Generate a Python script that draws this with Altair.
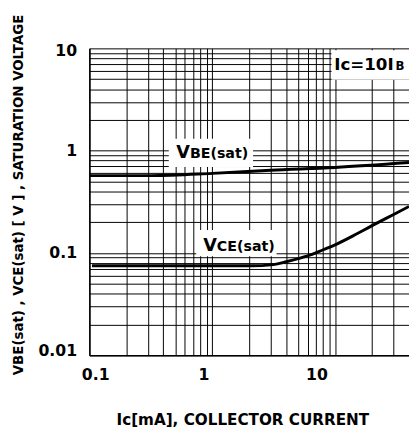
import altair as alt
import pandas as pd

# ---- data ----
VBE_IC = [0.1, 0.32, 1, 3, 10, 40]
VBE_V = [0.57, 0.57, 0.60, 0.645, 0.685, 0.765]

VCE_IC = [0.105, 2.15, 3, 4, 5, 6.5, 8, 10, 14, 20, 30, 40]
VCE_V = [0.075, 0.075, 0.0765, 0.082, 0.088, 0.097, 0.1075, 0.12, 0.147, 0.185, 0.238, 0.285]

X_GRID = [0.1, 0.2, 0.3, 0.4, 0.5, 0.6, 0.7, 0.8, 0.9,
          1, 2, 3, 4, 5, 6, 7, 8, 9, 10, 20, 30]
Y_GRID = [0.01, 0.02, 0.03, 0.04, 0.05, 0.06, 0.07, 0.08, 0.09,
          0.1, 0.2, 0.3, 0.4, 0.5, 0.6, 0.7, 0.8, 0.9,
          1, 2, 3, 4, 5, 6, 7, 8, 9, 10]
X_LABELS = ["0.1", "1", "10"]
Y_LABELS = ["0.01", "0.1", "1", "10"]

ANN_KEY = ["VBE", "VCE", "IC"]
ANN_MAIN = ["V", "V", "Ic=10I"]
ANN_SUB = ["BE(sat)", "CE(sat)", "B"]
ANN_X = [0.658, 1.09, 30]
ANN_Y = [0.839, 0.1045, 6.15]
BOX_X1 = [0.443, 0.741, 9.36]
BOX_X2 = [2.15, 3.34, 40]
BOX_Y1 = [1.31, 0.168, 9.57]
BOX_Y2 = [0.692, 0.0929, 4.93]

curves = pd.concat([
    pd.DataFrame({"ic": VBE_IC, "v": VBE_V, "s": "VBE"}),
    pd.DataFrame({"ic": VCE_IC, "v": VCE_V, "s": "VCE"}),
])
ann = pd.DataFrame({"key": ANN_KEY, "main": ANN_MAIN, "sub": ANN_SUB,
                    "x": ANN_X, "y": ANN_Y,
                    "x1": BOX_X1, "x2": BOX_X2, "y1": BOX_Y1, "y2": BOX_Y2})

FONT = "DejaVu Sans"

x_label_expr = " : ".join(
    [f"datum.value == {t} ? '{t}'" for t in X_LABELS]) + " : ''"
y_label_expr = " : ".join(
    [f"datum.value == {t} ? '{t}'" for t in Y_LABELS]) + " : ''"

xscale = alt.Scale(type="log", domain=[0.1, 40], nice=False)
yscale = alt.Scale(type="log", domain=[0.01, 10], nice=False)

xaxis = alt.Axis(
    values=X_GRID, grid=True, gridColor="#000", gridWidth=1, gridOpacity=1,
    domain=True, domainColor="#000", domainWidth=1.5, ticks=False,
    labelExpr=x_label_expr, labelFont=FONT, labelFontWeight="bold",
    labelFontSize=16, labelColor="#000", labelPadding=12,
    labelFlush=False, labelOverlap=False, labelBound=False,
    labelOffset={"condition": [{"test": "datum.value == 1", "value": -9},
                               {"test": "datum.value == 10", "value": -19}],
                 "value": 6},
    title="Ic[mA], COLLECTOR CURRENT", titleFont=FONT, titleFontWeight="bold",
    titleFontSize=15.5, titleColor="#000", titleX=156, titleY=71,
    titleBaseline="alphabetic", titleAlign="center",
)
yaxis = alt.Axis(
    values=Y_GRID, grid=True, gridColor="#000", gridWidth=1, gridOpacity=1,
    domain=True, domainColor="#000", domainWidth=1.5, ticks=False,
    labelExpr=y_label_expr, labelFont=FONT, labelFontWeight="bold",
    labelFontSize=16, labelColor="#000", labelPadding=13,
    labelFlush=False, labelOverlap=False, labelBound=False,
    labelOffset={"condition": [{"test": "datum.value == 0.01", "value": -5},
                               {"test": "datum.value == 10", "value": 2}],
                 "value": 0},
    title="VBE(sat) , VCE(sat) [ V ] , SATURATION VOLTAGE",
    titleFont=FONT, titleFontWeight="bold", titleFontSize=13.6,
    titleColor="#000", titleX=-72, titleY=149, titleAngle=270,
    titleBaseline="middle", titleAlign="center",
)

X = alt.X("ic:Q", scale=xscale, axis=xaxis)
Y = alt.Y("v:Q", scale=yscale, axis=yaxis)

boxes = alt.Chart(ann).mark_rect(color="white").encode(
    x=alt.X("x1:Q", scale=xscale, axis=xaxis), x2="x2:Q",
    y=alt.Y("y1:Q", scale=yscale, axis=yaxis), y2="y2:Q",
)

lines = alt.Chart(curves).mark_line(
    color="#000", strokeWidth=3, interpolate="monotone"
).encode(x=X, y=Y, detail="s:N")

base_t = alt.Chart(ann).encode(
    x=alt.X("x:Q", scale=xscale, axis=xaxis),
    y=alt.Y("y:Q", scale=yscale, axis=yaxis),
)
v_main = base_t.transform_filter("datum.key != 'IC'").mark_text(
    font=FONT, fontWeight="bold", fontSize=18, align="right",
    baseline="alphabetic", color="#000").encode(text="main:N")
v_sub = base_t.transform_filter("datum.key != 'IC'").mark_text(
    font=FONT, fontWeight="bold", fontSize=14.5, align="left",
    baseline="alphabetic", color="#000").encode(text="sub:N")
ic_main = base_t.transform_filter("datum.key == 'IC'").mark_text(
    font=FONT, fontWeight="bold", fontSize=17, align="right",
    baseline="alphabetic", color="#000").encode(text="main:N")
ic_sub = base_t.transform_filter("datum.key == 'IC'").mark_text(
    font=FONT, fontWeight="bold", fontSize=12, align="left", dx=2,
    baseline="alphabetic", color="#000").encode(text="sub:N")

chart = alt.layer(boxes, lines, v_main, v_sub, ic_main, ic_sub).properties(
    width=326, height=313,
    padding={"left": 83, "top": 37, "right": 0, "bottom": 70},
    autosize=alt.AutoSizeParams(type="none"),
    background="white",
).configure_view(stroke=None)

chart.save("out.html", embed_options={"renderer": "svg", "actions": False})
